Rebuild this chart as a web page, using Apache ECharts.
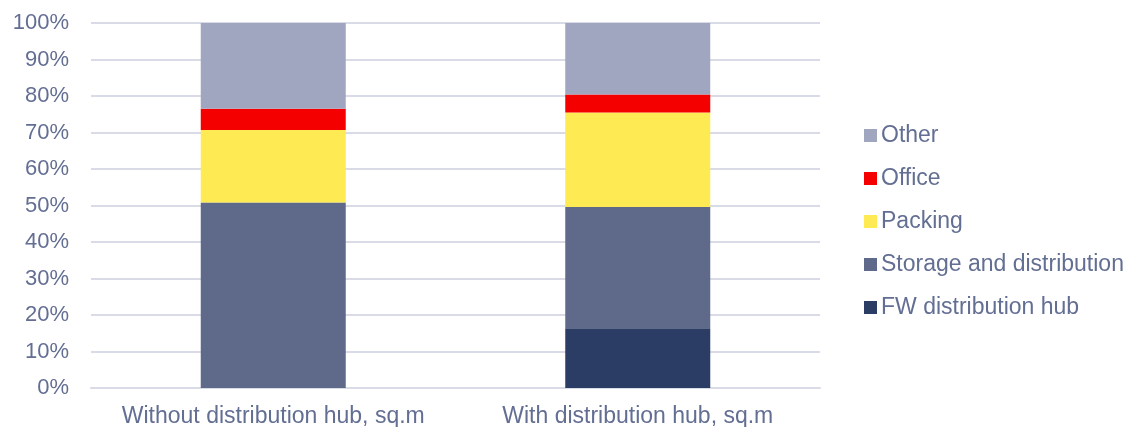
<!DOCTYPE html>
<html><head><meta charset="utf-8">
<script src="https://cdn.jsdelivr.net/npm/echarts@6/dist/echarts.min.js"></script>
<style>html,body{margin:0;padding:0;background:#fff}#c{width:1135px;height:427px}</style>
</head><body><div id="c"></div>
<script>
const categories = ["Without distribution hub, sq.m", "With distribution hub, sq.m"];
const fwHub = [0, 16.4];
const storage = [50.8, 33.2];
const packing = [19.9, 25.9];
const office = [5.8, 4.9];
const other = [23.5, 19.6];
const legendOrder = ["Other", "Office", "Packing", "Storage and distribution", "FW distribution hub"];

const font = "'Liberation Sans', Arial, sans-serif";
const textColor = "#636E93";
function s(name, data, color) {
  return { name, type: 'bar', stack: 'a', data, barWidth: 145, itemStyle: { color }, emphasis: { disabled: true } };
}
const chart = echarts.init(document.getElementById('c'));
chart.setOption({
  animation: false,
  grid: { left: 91, right: 315, top: 23, bottom: 39, outerBoundsMode: 'none', containLabel: false },
  legend: {
    data: legendOrder, orient: 'vertical', left: 859, top: 119,
    itemWidth: 13, itemHeight: 13, itemGap: 20, icon: 'rect',
    textStyle: { fontFamily: font, fontSize: 23, color: textColor, padding: [0, 0, 0, -1] }
  },
  xAxis: {
    type: 'category', data: categories,
    axisLine: { lineStyle: { color: '#D9DBE6', width: 2 } }, axisTick: { show: false },
    axisLabel: { interval: 0, hideOverlap: false, fontFamily: font, fontSize: 23, color: textColor, margin: 17 }
  },
  yAxis: {
    type: 'value', min: 0, max: 100, interval: 10,
    axisLabel: { formatter: '{value}%', fontFamily: font, fontSize: 22, color: textColor, margin: 22 },
    splitLine: { lineStyle: { color: '#D9DBE6', width: 2 } },
    axisLine: { show: false }, axisTick: { show: false }
  },
  series: [
    s("FW distribution hub", fwHub, '#2B3D65'),
    s("Storage and distribution", storage, '#5F6A8B'),
    s("Packing", packing, '#FEEA52'),
    s("Office", office, '#F40000'),
    s("Other", other, '#A1A6C0')
  ]
});
</script></body></html>
